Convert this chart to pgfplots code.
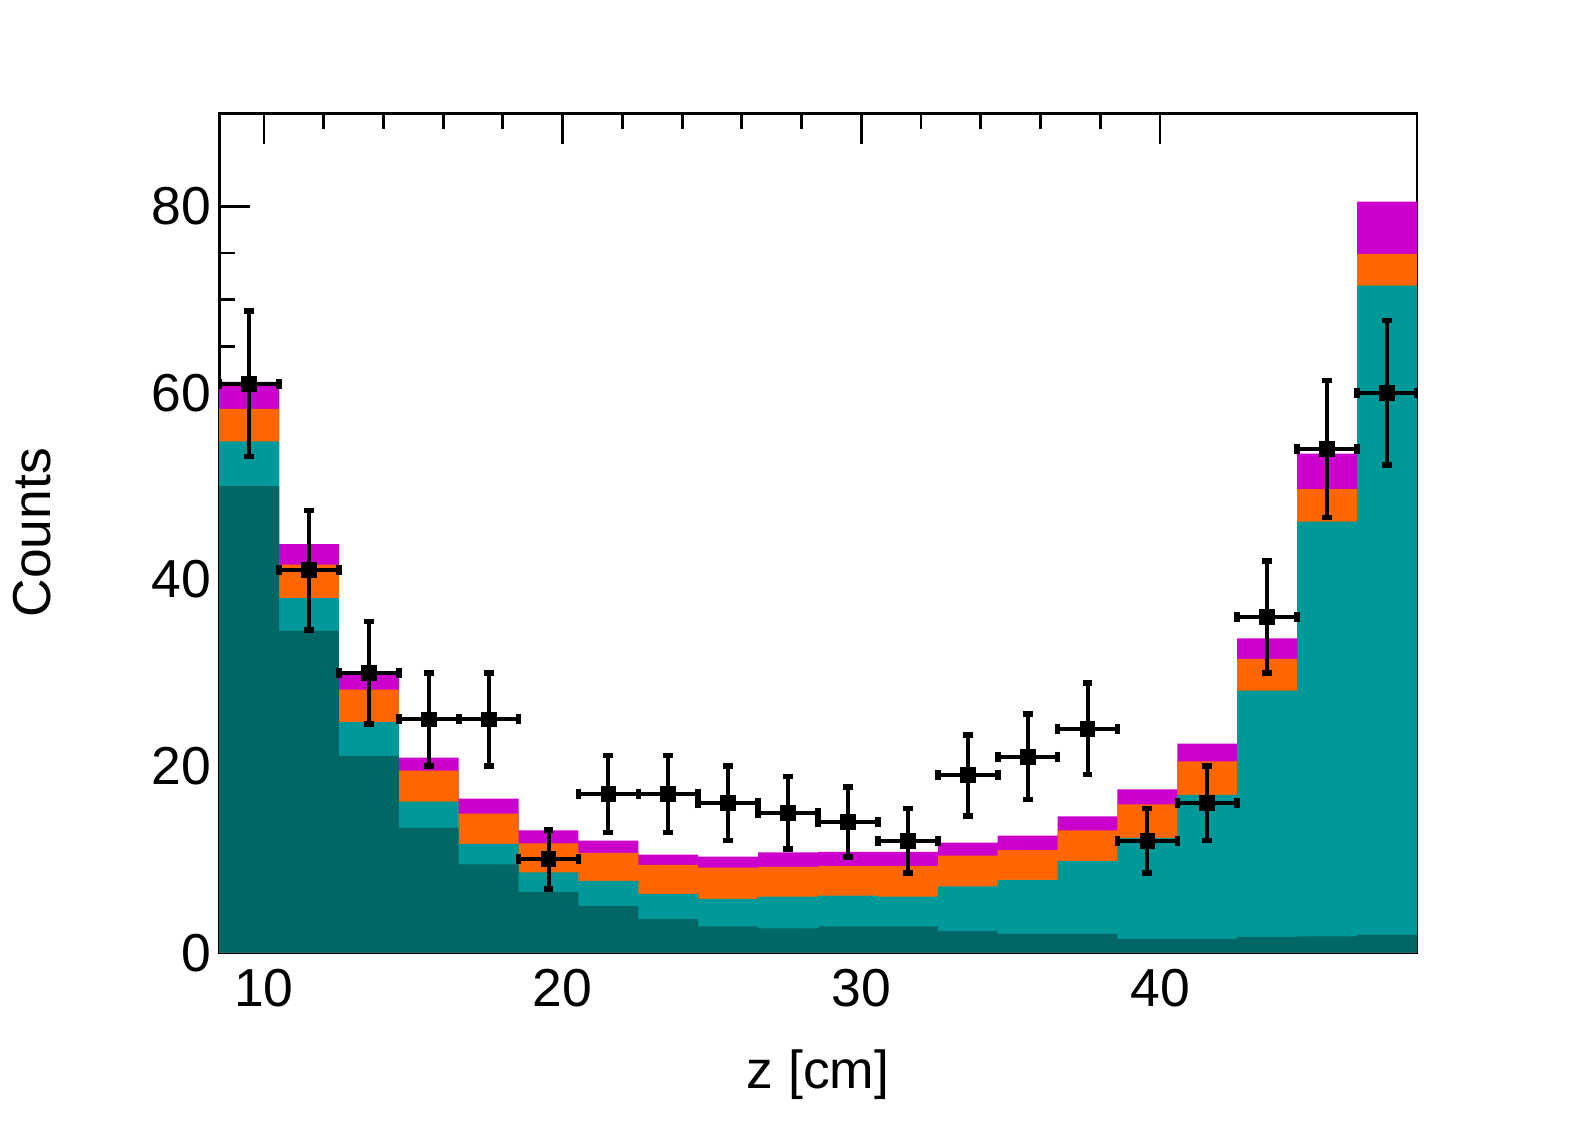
\documentclass[border=0pt]{standalone}
\usepackage{fontspec}
\setmainfont{Liberation Sans}
\usepackage{pgfplots}
\pgfplotsset{compat=1.18}
\definecolor{cdark}{HTML}{006666}
\definecolor{cteal}{HTML}{009999}
\definecolor{corange}{HTML}{FF6600}
\definecolor{cmag}{HTML}{CC00CC}
\begin{document}
\begin{tikzpicture}
\path[use as bounding box] (-2.19cm,-1.82cm) rectangle (13.55cm,9.52cm);
\begin{axis}[
  at={(0,0)}, anchor=south west,
  scale only axis, width=11.97cm, height=8.39cm,
  xmin=8.5, xmax=48.6, ymin=0, ymax=90,
  xtick={10,20,30,40}, minor x tick num=4,
  ytick={0,20,40,60,80}, minor y tick num=3,
  xtick pos=both, ytick pos=both,
  tick align=inside,
  major tick length=0.31cm, minor tick length=0.16cm,
  axis line style={line width=0.8pt},
  every tick/.style={black, line width=0.8pt},
  /pgf/number format/assume math mode=true,
  tick label style={font=\fontsize{15.2}{18}\selectfont, inner sep=0pt},
  xticklabel style={anchor=north, yshift=-0.16cm},
  yticklabel style={anchor=east, xshift=-0.07cm},
  xlabel={z [cm]}, ylabel={Counts},
  label style={font=\fontsize{15.2}{18}\selectfont},
  xlabel style={at={(axis description cs:0.5,-0.1454)}, anchor=center},
  ylabel style={at={(axis description cs:-0.1562,0.5)}, anchor=center},
]
% total (magenta top)
\addplot[const plot, fill=cmag, draw=none] coordinates {
(8.5,61.2) (10.505,43.8) (12.51,29.8) (14.515,20.9) (16.52,16.5) (18.525,13.1)
(20.53,12.0) (22.535,10.5) (24.54,10.3) (26.545,10.75) (28.55,10.8) (30.555,10.8)
(32.56,11.8) (34.565,12.55) (36.57,14.6) (38.575,17.5) (40.58,22.4) (42.585,33.7)
(44.59,53.5) (46.595,80.5) (48.6,80.5)} \closedcycle;
% orange top
\addplot[const plot, fill=corange, draw=none] coordinates {
(8.5,58.3) (10.505,41.6) (12.51,28.2) (14.515,19.5) (16.52,14.9) (18.525,11.7)
(20.53,10.7) (22.535,9.4) (24.54,9.1) (26.545,9.2) (28.55,9.3) (30.555,9.3)
(32.56,10.4) (34.565,11.0) (36.57,13.1) (38.575,15.9) (40.58,20.5) (42.585,31.5)
(44.59,49.7) (46.595,74.9) (48.6,74.9)} \closedcycle;
% teal top
\addplot[const plot, fill=cteal, draw=none] coordinates {
(8.5,54.8) (10.505,38.0) (12.51,24.7) (14.515,16.2) (16.52,11.65) (18.525,8.6)
(20.53,7.7) (22.535,6.3) (24.54,5.75) (26.545,6.0) (28.55,6.1) (30.555,6.0)
(32.56,7.1) (34.565,7.8) (36.57,9.8) (38.575,12.3) (40.58,16.9) (42.585,28.1)
(44.59,46.2) (46.595,71.5) (48.6,71.5)} \closedcycle;
% dark teal
\addplot[const plot, fill=cdark, draw=none] coordinates {
(8.5,50.0) (10.505,34.5) (12.51,21.1) (14.515,13.4) (16.52,9.47) (18.525,6.5)
(20.53,5.0) (22.535,3.6) (24.54,2.8) (26.545,2.6) (28.55,2.8) (30.555,2.8)
(32.56,2.3) (34.565,2.0) (36.57,2.0) (38.575,1.47) (40.58,1.47) (42.585,1.7)
(44.59,1.75) (46.595,1.9) (48.6,1.9)} \closedcycle;
% data
\addplot[only marks, mark=square*, mark size=2.1pt, black,
  line width=1.15pt,
  mark options={line width=0.3pt},
  error bars/.cd, x dir=both, x explicit, y dir=both, y explicit,
  error bar style={line width=1.15pt, black},
  error mark=|, error mark options={line width=1.6pt, mark size=1.4pt, black}]
coordinates {
(9.5025,61) +- (1.0025,7.81)
(11.5075,41) +- (1.0025,6.40)
(13.5125,30) +- (1.0025,5.48)
(15.5175,25) +- (1.0025,5.00)
(17.5225,25) +- (1.0025,5.00)
(19.5275,10) +- (1.0025,3.16)
(21.5325,17) +- (1.0025,4.12)
(23.5375,17) +- (1.0025,4.12)
(25.5425,16) +- (1.0025,4.00)
(27.5475,15) +- (1.0025,3.87)
(29.5525,14) +- (1.0025,3.74)
(31.5575,12) +- (1.0025,3.46)
(33.5625,19) +- (1.0025,4.36)
(35.5675,21) +- (1.0025,4.58)
(37.5725,24) +- (1.0025,4.90)
(39.5775,12) +- (1.0025,3.46)
(41.5825,16) +- (1.0025,4.00)
(43.5875,36) +- (1.0025,6.00)
(45.5925,54) +- (1.0025,7.35)
(47.5975,60) +- (1.0025,7.75)
};
\end{axis}
\end{tikzpicture}
\end{document}
